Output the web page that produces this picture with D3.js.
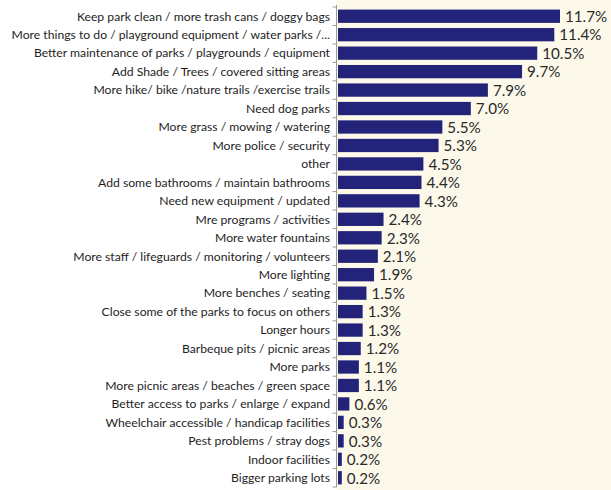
<!DOCTYPE html>
<html><head><meta charset="utf-8">
<script src="https://cdn.jsdelivr.net/npm/d3@7"></script>
<style>body{margin:0;background:#fff;} svg{display:block;}</style>
</head><body>
<svg id="chart" width="611" height="490"></svg>
<script>
const categories = [
  "Keep park clean / more trash cans / doggy bags",
  "More things to do / playground equipment / water parks /...",
  "Better maintenance of parks / playgrounds / equipment",
  "Add Shade / Trees / covered sitting areas",
  "More hike/ bike /nature trails /exercise trails",
  "Need dog parks",
  "More grass / mowing / watering",
  "More police / security",
  "other",
  "Add some bathrooms / maintain bathrooms",
  "Need new equipment / updated",
  "Mre programs / activities",
  "More water fountains",
  "More staff / lifeguards / monitoring / volunteers",
  "More lighting",
  "More benches / seating",
  "Close some of the parks to focus on others",
  "Longer hours",
  "Barbeque pits / picnic areas",
  "More parks",
  "More picnic areas / beaches / green space",
  "Better access to parks / enlarge / expand",
  "Wheelchair accessible / handicap facilities",
  "Pest problems / stray dogs",
  "Indoor facilities",
  "Bigger parking lots"
];
const values = [11.7, 11.4, 10.5, 9.7, 7.9, 7.0, 5.5, 5.3, 4.5, 4.4, 4.3, 2.4, 2.3, 2.1, 1.9, 1.5, 1.3, 1.3, 1.2, 1.1, 1.1, 0.6, 0.3, 0.3, 0.2, 0.2];

const svg = d3.select("#chart");
const axisX = 336.5, barX0 = 338, plotTop = 7, plotBottom = 487;

svg.append("rect").attr("x", axisX).attr("y", 0).attr("width", 611 - axisX).attr("height", 490).attr("fill", "#fcf9eb");

const y = d3.scaleBand().domain(categories).range([plotTop, plotBottom]).paddingInner(0.28).paddingOuter(0.14);
const x = d3.scaleLinear().domain([0, 11.7]).range([barX0, 560]);

const data = categories.map((c, i) => ({c, v: values[i]}));

svg.selectAll("rect.bar").data(data).join("rect").attr("class", "bar")
  .attr("x", x(0)).attr("y", d => y(d.c)).attr("width", d => x(d.v) - x(0)).attr("height", y.bandwidth())
  .attr("fill", "#232379");

// axis
const ax = svg.append("g");
ax.append("line").attr("x1", axisX).attr("x2", axisX).attr("y1", plotTop - 2).attr("y2", plotBottom).attr("stroke", "#999").attr("stroke-width", 1);
const bounds = d3.range(categories.length + 1).map(i => plotTop + i * (plotBottom - plotTop) / categories.length);
ax.selectAll("line.tk").data(bounds).join("line").attr("class", "tk")
  .attr("x1", axisX - 4).attr("x2", axisX).attr("y1", d => d).attr("y2", d => d).attr("stroke", "#999");

svg.selectAll("text.cat").data(data).join("text").attr("class", "cat")
  .attr("x", 330).attr("y", d => y(d.c) + y.bandwidth() / 2).attr("dy", "0.35em")
  .attr("text-anchor", "end").attr("font-family", "Lato, 'Open Sans', sans-serif").attr("font-size", 12.2)
  .attr("fill", "#1e1e1e").text(d => d.c);

svg.selectAll("text.val").data(data).join("text").attr("class", "val")
  .attr("x", d => x(d.v) + 5).attr("y", d => y(d.c) + y.bandwidth() / 2).attr("dy", "0.38em")
  .attr("font-family", "Lato, 'Open Sans', sans-serif").attr("font-size", 15.2)
  .attr("fill", "#2a2a2a").text(d => d.v.toFixed(1) + "%");
</script>
</body></html>
